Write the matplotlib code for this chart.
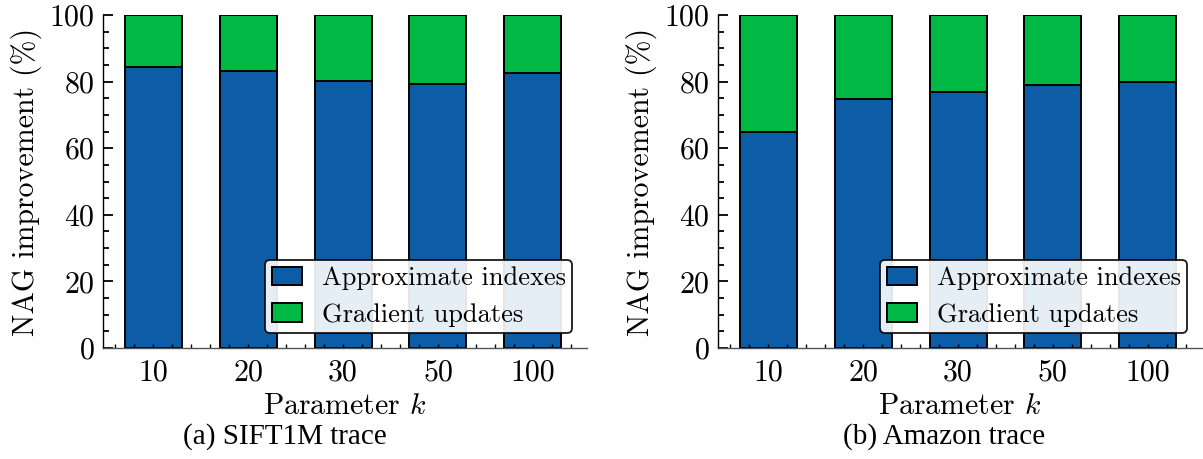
import matplotlib
matplotlib.use("Agg")
import matplotlib.pyplot as plt
from matplotlib.ticker import MultipleLocator
import numpy as np

# data
k_labels = ["10", "20", "30", "50", "100"]
sift_approx = [84.3, 83.3, 80.2, 79.2, 82.7]
amazon_approx = [65.0, 74.8, 76.9, 78.9, 80.0]
captions = ["(a) SIFT1M trace", "(b) Amazon trace"]

blue = "#0C5DA5"
green = "#00B945"

plt.rcParams["font.family"] = "serif"
plt.rcParams["font.serif"] = ["cmr10"]
plt.rcParams["mathtext.fontset"] = "cm"
plt.rcParams["axes.formatter.use_mathtext"] = True
plt.rcParams["font.size"] = 21.5

fig = plt.figure(figsize=(12.03, 4.59), dpi=100)
lefts = [0.0856, 0.5968]
cap_x = [0.237, 0.785]
x = np.arange(len(k_labels))

for left, approx, cap, cx in zip(lefts, [sift_approx, amazon_approx], captions, cap_x):
    ax = fig.add_axes([left, 0.2418, 0.4023, 0.7255])
    approx = np.array(approx)
    grad = 100 - approx
    ax.bar(x, approx, width=0.6, color=blue, edgecolor="black", linewidth=1.4,
           label="Approximate indexes")
    ax.bar(x, grad, width=0.6, bottom=approx, color=green, edgecolor="black",
           linewidth=1.4, label="Gradient updates")

    ax.set_xlim(-0.53, 4.57)
    ax.set_ylim(0, 100)
    ax.set_xticks(x)
    ax.set_xticklabels(k_labels)
    ax.xaxis.set_minor_locator(MultipleLocator(0.2))
    ax.yaxis.set_major_locator(MultipleLocator(20))
    ax.yaxis.set_minor_locator(MultipleLocator(5))

    ax.spines["top"].set_visible(False)
    ax.spines["right"].set_visible(False)
    ax.spines["left"].set_linewidth(1.0)
    ax.spines["bottom"].set_linewidth(1.0)
    ax.spines["bottom"].set_color("#555555")

    ax.tick_params(axis="y", which="major", direction="in", length=7.5, width=1.3, pad=6)
    ax.tick_params(axis="y", which="minor", direction="in", length=4.5, width=1.3)
    ax.tick_params(axis="x", which="both", direction="in", length=3, width=1.0, pad=8)

    ax.set_ylabel("NAG improvement (%)", labelpad=5)
    ax.set_xlabel("Parameter $k$", labelpad=4)

    leg = ax.legend(loc="lower right", frameon=True,
                    framealpha=0.9, edgecolor="black", fancybox=True,
                    fontsize=19, handlelength=1.15, handleheight=0.7,
                    borderpad=0.25, labelspacing=0.5, handletextpad=0.75,
                    borderaxespad=0.55)
    leg.get_frame().set_linewidth(1.3)

    fig.text(cx, 0.048, cap, ha="center", va="center",
             fontsize=21, family="Liberation Serif")

fig.savefig("out.png", dpi=100)
